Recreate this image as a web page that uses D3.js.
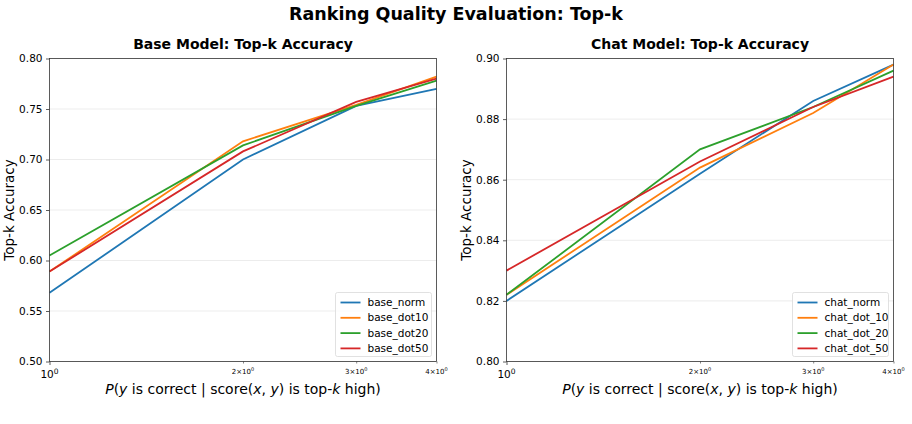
<!DOCTYPE html>
<html><head><meta charset="utf-8">
<script src="https://cdn.jsdelivr.net/npm/d3@7"></script>
<style>body{margin:0;background:#fff}svg{display:block;font-family:"DejaVu Sans",sans-serif}</style>
</head><body><svg id="c" width="912" height="424"></svg>
<script>
const kValues = [1, 2, 3, 4];
const baseSeries = ["base_norm", "base_dot10", "base_dot20", "base_dot50"];
const base_norm  = [0.568, 0.700, 0.753, 0.770];
const base_dot10 = [0.589, 0.718, 0.754, 0.782];
const base_dot20 = [0.605, 0.714, 0.753, 0.778];
const base_dot50 = [0.589, 0.708, 0.757, 0.780];
const chatSeries = ["chat_norm", "chat_dot_10", "chat_dot_20", "chat_dot_50"];
const chat_norm   = [0.820, 0.862, 0.886, 0.898];
const chat_dot_10 = [0.822, 0.864, 0.882, 0.898];
const chat_dot_20 = [0.822, 0.870, 0.884, 0.896];
const chat_dot_50 = [0.830, 0.866, 0.884, 0.894];
const baseYTicks = [0.50, 0.55, 0.60, 0.65, 0.70, 0.75, 0.80];
const chatYTicks = [0.80, 0.82, 0.84, 0.86, 0.88, 0.90];
const colors = ["#1f77b4", "#ff7f0e", "#2ca02c", "#d62728"];

const svg = d3.select("#c");
svg.append("text").attr("x", 456).attr("y", 20).attr("text-anchor", "middle")
  .attr("font-size", 17.5).attr("font-weight", "bold").text("Ranking Quality Evaluation: Top-k");

function panel(opts) {
  const {x0, x1, y0, y1, title, names, data, yDomain, yTicks, fmt} = opts;
  const g = svg.append("g");
  const x = d3.scaleLog().domain([1, 4]).range([x0, x1]);
  const y = d3.scaleLinear().domain(yDomain).range([y1, y0]);
  g.selectAll(".grid").data(yTicks).join("line")
    .attr("x1", x0).attr("x2", x1).attr("y1", d => y(d)).attr("y2", d => y(d))
    .attr("stroke", "#b0b0b0").attr("stroke-opacity", 0.3).attr("stroke-width", 0.8);
  const line = d3.line().x((d, i) => x(kValues[i])).y(d => y(d));
  data.forEach((s, i) => {
    g.append("path").datum(s).attr("d", line).attr("fill", "none")
      .attr("stroke", colors[i]).attr("stroke-width", 1.8);
  });
  g.append("rect").attr("x", x0).attr("y", y0).attr("width", x1 - x0).attr("height", y1 - y0)
    .attr("fill", "none").attr("stroke", "#333").attr("stroke-width", 0.8);
  const ya = g.append("g").attr("transform", `translate(${x0},0)`)
    .call(d3.axisLeft(y).tickValues(yTicks).tickFormat(d3.format(fmt)).tickSize(3.5).tickPadding(3.5));
  ya.select(".domain").remove();
  ya.selectAll("text").attr("font-size", 10.5).attr("fill", "#000").attr("font-family", "DejaVu Sans");
  ya.selectAll("line").attr("stroke", "#333").attr("stroke-width", 0.8);
  const xa = g.append("g").attr("transform", `translate(0,${y1})`)
    .call(d3.axisBottom(x).tickValues([1]).tickFormat("").tickSize(3.5));
  xa.select(".domain").remove();
  xa.selectAll("line").attr("stroke", "#333").attr("stroke-width", 0.8);
  const mt = g.append("text").attr("x", x(1)).attr("y", y1 + 16).attr("text-anchor", "middle")
    .attr("font-size", 10.5);
  mt.append("tspan").text("10");
  mt.append("tspan").attr("dy", -4).attr("font-size", 7.5).text("0");
  const xm = g.append("g").attr("transform", `translate(0,${y1})`)
    .call(d3.axisBottom(x).tickValues([2, 3, 4]).tickFormat("").tickSize(2));
  xm.select(".domain").remove();
  xm.selectAll("line").attr("stroke", "#333").attr("stroke-width", 0.6);
  [2, 3, 4].forEach(v => {
    const t = g.append("text").attr("x", x(v)).attr("y", y1 + 12).attr("text-anchor", "middle")
      .attr("font-size", 7);
    t.append("tspan").text(v + "\u00d710");
    t.append("tspan").attr("dy", -3).attr("font-size", 5).text("0");
  });
  g.append("text").attr("x", (x0 + x1) / 2).attr("y", y0 - 10).attr("text-anchor", "middle")
    .attr("font-size", 14).attr("font-weight", "bold").text(title);
  g.append("text").attr("transform", `translate(${x0 - 36},${(y0 + y1) / 2}) rotate(-90)`)
    .attr("text-anchor", "middle").attr("font-size", 13.5).text("Top-k Accuracy");
  const xl = g.append("text").attr("x", (x0 + x1) / 2).attr("y", y1 + 32).attr("text-anchor", "middle")
    .attr("font-size", 14);
  const parts = [["P", 1], ["(", 0], ["y", 1], [" is correct | score(", 0], ["x", 1], [", ", 0], ["y", 1], [") is top-", 0], ["k", 1], [" high)", 0]];
  parts.forEach(([t, it]) => xl.append("tspan").attr("font-style", it ? "italic" : "normal").text(t));
  const lw = 96, lh = 64;
  const lx = x1 - 5 - lw, ly = y1 - 5 - lh;
  const lg = g.append("g").attr("transform", `translate(${lx},${ly})`);
  lg.append("rect").attr("width", lw).attr("height", lh).attr("rx", 2)
    .attr("fill", "#fff").attr("fill-opacity", 0.8).attr("stroke", "#d9d9d9").attr("stroke-width", 0.8);
  names.forEach((n, i) => {
    const yy = 10 + i * 15.3;
    lg.append("line").attr("x1", 5).attr("x2", 25).attr("y1", yy).attr("y2", yy)
      .attr("stroke", colors[i]).attr("stroke-width", 1.8);
    lg.append("text").attr("x", 32).attr("y", yy + 3.5).attr("font-size", 10.5).text(n);
  });
}

panel({x0: 49.5, x1: 436.5, y0: 58.5, y1: 361.5, title: "Base Model: Top-k Accuracy",
  names: baseSeries, data: [base_norm, base_dot10, base_dot20, base_dot50],
  yDomain: [0.5, 0.8], yTicks: baseYTicks, fmt: ".2f"});
panel({x0: 506.5, x1: 893.5, y0: 58.5, y1: 361.5, title: "Chat Model: Top-k Accuracy",
  names: chatSeries, data: [chat_norm, chat_dot_10, chat_dot_20, chat_dot_50],
  yDomain: [0.8, 0.9], yTicks: chatYTicks, fmt: ".2f"});
</script></body></html>
